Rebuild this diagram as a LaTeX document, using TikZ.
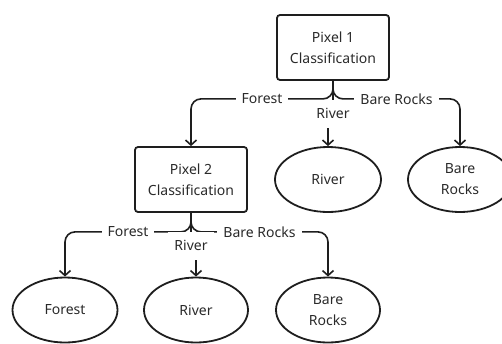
\documentclass[tikz,border=0pt]{standalone}
\usepackage{fontspec}
\setmainfont{Noto Sans}
\usetikzlibrary{arrows.meta,shapes.geometric}
\definecolor{ink}{HTML}{1E1E1E}
\definecolor{txt}{HTML}{2A2A2A}
\newcommand{\fs}{\fontsize{14}{21}\selectfont}
\begin{document}
\begin{tikzpicture}[x=1pt,y=-1pt,
  box/.style={draw=ink,line width=1.8pt,rounded corners=3pt,minimum width=112pt,minimum height=65pt,align=center,text=txt,font=\fs,inner sep=0pt},
  oval/.style={ellipse,draw=ink,line width=1.8pt,minimum width=104pt,minimum height=65pt,align=center,text=txt,font=\fs,inner sep=0pt},
  link/.style={draw=ink,line width=1.6pt,rounded corners=10pt,-{Straight Barb[length=5pt,width=11pt]}},
  lbl/.style={fill=white,text=txt,font=\fs,inner xsep=6pt,inner ysep=3pt,rounded corners=0pt},
  lblr/.style={lbl,minimum height=28pt}]
\useasboundingbox (0,0) rectangle (502,343);
\node[box] (p1) at (333,47.5) {Pixel 1\\Classification};
\node[box] (p2) at (191,179.5) {Pixel 2\\Classification};
\node[oval,minimum width=106pt] (r1) at (328,179.5) {River};
\node[oval] (b1) at (460,179.5) {Bare\\Rocks};
\node[oval,minimum width=105pt] (f2) at (65,310) {Forest};
\node[oval] (r2) at (196,310) {River};
\node[oval] (b2) at (328,310) {Bare\\Rocks};
\draw[link] (p1.south) -- ++(0,18) -| node[lbl,pos=0.25]{Forest} (p2.north);
\draw[link] (p1.south) -- ++(0,18) -| node[lbl,pos=0.25]{Bare Rocks} (b1.north);
\draw[link] (p1.south) -- ++(0,33) node[lblr]{River} -| (r1.north);
\draw[link] (p2.south) -- ++(0,19) -| node[lbl,pos=0.25]{Forest} (f2.north);
\draw[link] (p2.south) -- ++(0,19) -| node[lbl,pos=0.25]{Bare Rocks} (b2.north);
\draw[link] (p2.south) -- ++(0,33) node[lblr]{River} -| (r2.north);
\end{tikzpicture}
\end{document}
